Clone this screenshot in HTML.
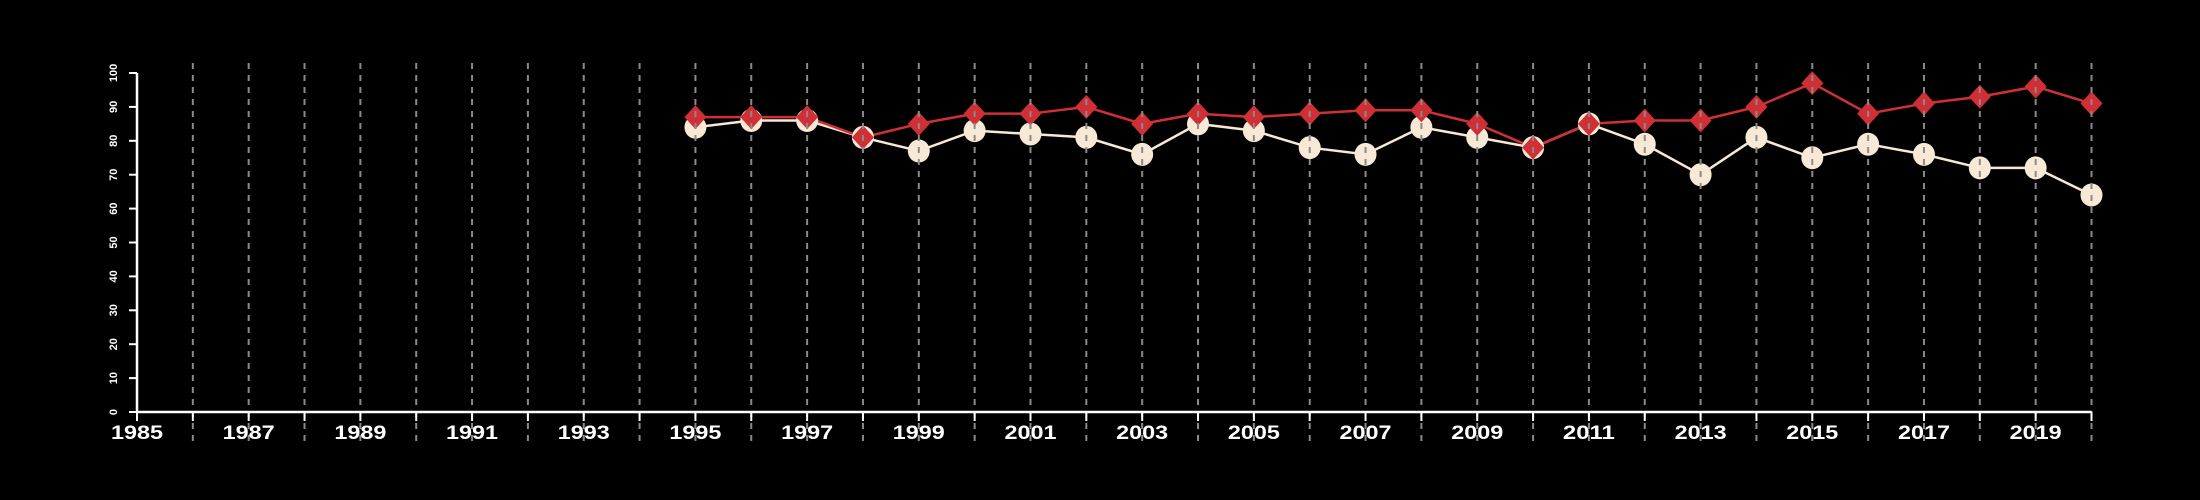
<!DOCTYPE html>
<html><head><meta charset="utf-8"><style>
html,body{margin:0;padding:0;background:#000;}
svg{display:block;}
</style></head><body>
<svg id="chart" width="2200" height="500" viewBox="0 0 2200 500" xmlns="http://www.w3.org/2000/svg">
<rect width="2200" height="500" fill="#000"/>
<g id="gLines"></g>
<g id="gMarks"></g>
<g id="gGrid"></g>
<g id="gAxes"></g>
</svg>
<script>
const years = [1995,1996,1997,1998,1999,2000,2001,2002,2003,2004,2005,2006,2007,2008,2009,2010,2011,2012,2013,2014,2015,2016,2017,2018,2019,2020];
const seriesWhite = [84,86,86,81,77,83,82,81,76,85,83,78,76,84,81,78,85,79,70,81,75,79,76,72,72,64];
const seriesRed = [87,87,87,81,85,88,88,90,85,88,87,88,89,89,85,78,85,86,86,90,97,88,91,93,96,91];
const yTicks = [0,10,20,30,40,50,60,70,80,90,100];
const xLabelYears = [1985,1987,1989,1991,1993,1995,1997,1999,2001,2003,2005,2007,2009,2011,2013,2015,2017,2019];
const xMin = 1985, xMax = 2020;

const NS = "http://www.w3.org/2000/svg";
const X0 = 137, X1 = 2091.5, Y0 = 412, Y1 = 73;
function xs(v){ return X0 + (v - xMin) / (xMax - xMin) * (X1 - X0); }
function ys(v){ return Y0 - v / 100 * (Y0 - Y1); }
function mk(tag, attrs, parent){ const e = document.createElementNS(NS, tag); for (const k in attrs) e.setAttribute(k, attrs[k]); parent.appendChild(e); return e; }

const gLines = document.getElementById('gLines');
const gMarks = document.getElementById('gMarks');
const gGrid = document.getElementById('gGrid');
const gAxes = document.getElementById('gAxes');

// lines
const pw = years.map((y,i)=>xs(y)+','+ys(seriesWhite[i])).join(' ');
const lw = mk('polyline', {points: pw, fill:'none', stroke:'#f8e8d6', 'stroke-width':2.5}, gLines);


const pr = years.map((y,i)=>xs(y)+','+ys(seriesRed[i])).join(' ');
const lr = mk('polyline', {points: pr, fill:'none', stroke:'#d03035', 'stroke-width':2.5}, gLines);



// markers
years.forEach((y,i)=>{
  const c = mk('ellipse', {cx: xs(y), cy: ys(seriesWhite[i]), rx: 11, ry: 11.5, fill:'#f8e8d6'}, gMarks);
  
  
});
years.forEach((y,i)=>{
  const cx = xs(y), cy = ys(seriesRed[i]);
  const d = mk('polygon', {points: `${cx},${cy-12} ${cx+11},${cy} ${cx},${cy+12} ${cx-11},${cy}`, fill:'#d03035'}, gMarks);
  
  
});

// vertical dashed grid
for (let y = xMin + 1; y <= xMax; y++){
  const l = mk('line', {x1: xs(y), x2: xs(y), y1: Y1 - 10, y2: Y0 + 30, stroke:'#8a8a8a', 'stroke-width':2, 'stroke-dasharray':'6,6'}, gGrid);
  
  
}

// axes
const ax = mk('line', {x1: X0, x2: X1, y1: Y0, y2: Y0, stroke:'#fff', 'stroke-width':2.5}, gAxes);


const ay = mk('line', {x1: X0, x2: X0, y1: Y0, y2: Y1, stroke:'#fff', 'stroke-width':2.5}, gAxes);


for (let y = xMin; y <= xMax; y++){
  const t = mk('line', {x1: xs(y), x2: xs(y), y1: Y0, y2: Y0 + 9, stroke:'#fff', 'stroke-width':2}, gAxes);
  
  
}
xLabelYears.forEach(y=>{
  const t = mk('text', {x: xs(y), y: 439, fill:'#fff', 'font-family':'"Liberation Sans", sans-serif', 'font-weight':'bold', 'font-size':19, 'text-anchor':'middle', textLength: 52, lengthAdjust:'spacingAndGlyphs'}, gAxes);
  t.textContent = y;
  
  
});
yTicks.forEach(v=>{
  const t = mk('line', {x1: X0 - 8, x2: X0, y1: ys(v), y2: ys(v), stroke:'#fff', 'stroke-width':2}, gAxes);
  
  
  const lbl = mk('text', {x: 0, y: 0, fill:'#fff', 'font-family':'"Liberation Sans", sans-serif', 'font-weight':'bold', 'font-size':11, 'text-anchor':'middle', transform:`translate(117,${ys(v)}) rotate(-90)`}, gAxes);
  lbl.textContent = v;
  
  
});
</script>
</body></html>
